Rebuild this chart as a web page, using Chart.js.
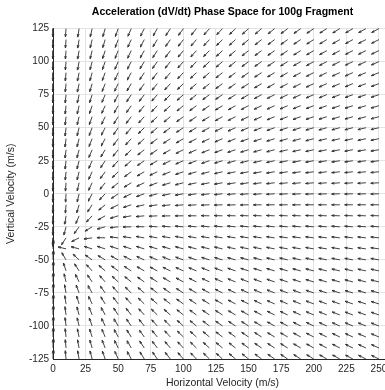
<!DOCTYPE html>
<html>
<head>
<meta charset="utf-8">
<script src="https://cdn.jsdelivr.net/npm/chart.js@4.4.0/dist/chart.umd.min.js"></script>
<style>
  html, body { margin: 0; padding: 0; background: #fff; overflow: hidden; }
  #wrap { width: 400px; height: 390px; }
</style>
</head>
<body>
<div id="wrap"><canvas id="phaseChart"></canvas></div>
<script>
// velocity grid the acceleration field is sampled on (m/s)
const horizontalVelocity = [0, 10, 20, 30, 40, 50, 60, 70, 80, 90, 100, 110, 120, 130, 140, 150,
  160, 170, 180, 190, 200, 210, 220, 230, 240, 250];
const verticalVelocity = [-125, -116.67, -108.33, -100, -91.67, -83.33, -75, -66.67, -58.33, -50,
  -41.67, -33.33, -25, -16.67, -8.33, 0, 8.33, 16.67, 25, 33.33, 41.67, 50, 58.33, 66.67, 75,
  83.33, 91.67, 100, 108.33, 116.67, 125];

const xTicks = [0, 25, 50, 75, 100, 125, 150, 175, 200, 225, 250];
const yTicks = [-125, -100, -75, -50, -25, 0, 25, 50, 75, 100, 125];

// 100 g fragment: gravity plus quadratic drag, terminal speed ~41 m/s
const gravity = 9.81;
const terminalSpeed = 41;

// quiver look
const arrowLength = 6.3;   // in axis units, every arrow normalised
const headBack = 0.33;
const headWidth = 0.33;

const dragK = gravity / (terminalSpeed * terminalSpeed);

// one polyline with gaps: shaft, then the two barbs of the head
const arrowPath = [];
horizontalVelocity.forEach(vx => {
  verticalVelocity.forEach(vy => {
    const speed = Math.hypot(vx, vy);
    const ax = -dragK * speed * vx;
    const ay = -gravity - dragK * speed * vy;
    const mag = Math.hypot(ax, ay);
    const u = ax / mag * arrowLength;
    const v = ay / mag * arrowLength;
    const tipX = vx + u;
    const tipY = vy + v;
    arrowPath.push({x: vx, y: vy}, {x: tipX, y: tipY}, {x: null, y: null});
    arrowPath.push(
      {x: tipX - headBack * (u + headWidth * v), y: tipY - headBack * (v - headWidth * u)},
      {x: tipX, y: tipY},
      {x: tipX - headBack * (u - headWidth * v), y: tipY - headBack * (v + headWidth * u)},
      {x: null, y: null}
    );
  });
});

const axisColor = '#262626';
const gridColor = '#e3e3e3';
const fontFamily = '"Liberation Sans", Arial, Helvetica, sans-serif';

const ctx = document.getElementById('phaseChart').getContext('2d');
const phaseChart = new Chart(ctx, {
  type: 'scatter',
  data: {
    datasets: [{
      label: 'dV/dt',
      data: arrowPath,
      showLine: true,
      spanGaps: false,
      borderColor: '#2e2e2e',
      borderWidth: 0.9,
      pointRadius: 0,
      pointHoverRadius: 0,
      clip: false
    }]
  },
  options: {
    responsive: true,
    maintainAspectRatio: false,
    animation: false,
    events: [],
    layout: { padding: { left: 0, right: 8, top: 0, bottom: 0 } },
    scales: {
      x: {
        type: 'linear',
        min: 0,
        max: 260,
        afterBuildTicks: scale => { scale.ticks = xTicks.map(value => ({value})); },
        afterFit: scale => { scale.height = 31; },
        ticks: {
          color: axisColor,
          padding: 4,
          maxRotation: 0,
          autoSkip: false,
          font: { family: fontFamily, size: 10 }
        },
        grid: { color: gridColor, drawTicks: false },
        border: { color: axisColor, width: 1 },
        title: {
          display: true,
          text: 'Horizontal Velocity (m/s)',
          color: axisColor,
          padding: { top: 0, bottom: 1 },
          font: { family: fontFamily, size: 10.5 }
        }
      },
      y: {
        type: 'linear',
        min: -125,
        max: 125,
        afterBuildTicks: scale => { scale.ticks = yTicks.map(value => ({value})); },
        afterFit: scale => { scale.width = 53; },
        ticks: {
          color: axisColor,
          padding: 4,
          autoSkip: false,
          font: { family: fontFamily, size: 10 }
        },
        grid: { color: gridColor, drawTicks: false },
        border: { color: axisColor, width: 1 },
        title: {
          display: true,
          text: 'Vertical Velocity (m/s)',
          color: axisColor,
          padding: { top: 5, bottom: 0 },
          font: { family: fontFamily, size: 10.5 }
        }
      }
    },
    plugins: {
      legend: { display: false },
      tooltip: { enabled: false },
      title: {
        display: true,
        fullSize: false,
        text: 'Acceleration (dV/dt) Phase Space for 100g Fragment',
        color: '#000',
        padding: { top: 6, bottom: 10 },
        font: { family: fontFamily, size: 10.5, weight: 'bold' }
      }
    }
  }
});
</script>
</body>
</html>
